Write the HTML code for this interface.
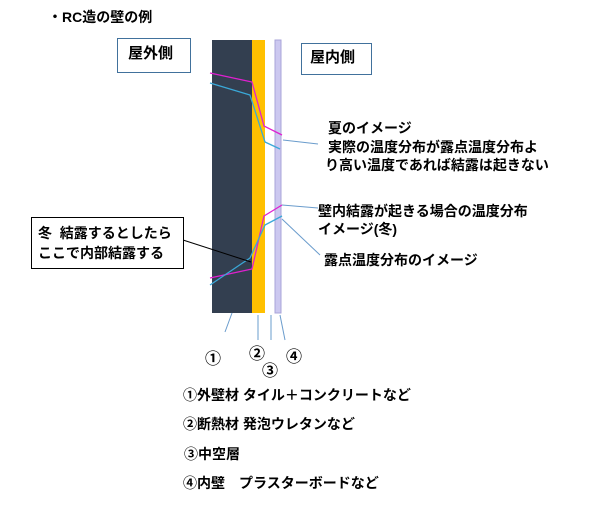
<!DOCTYPE html>
<html><head><meta charset="utf-8"><style>
body{margin:0;width:609px;height:506px;background:#fff;position:relative;overflow:hidden;font-family:"Liberation Sans","Noto Sans CJK JP",sans-serif;font-weight:bold;color:#000}
.t{position:absolute;font-size:14px;white-space:nowrap;line-height:18px}
.n{position:absolute;font-size:16px;line-height:18px;font-family:"Noto Sans CJK JP",sans-serif;font-weight:bold}
.box{position:absolute;border:1px solid #41719c;background:#fff}
</style></head><body>
<svg width="609" height="506" style="position:absolute;left:0;top:0">
<rect x="212" y="40" width="40" height="273" fill="#333f50"/>
<rect x="252" y="40" width="13" height="273" fill="#ffc000"/>
<rect x="275" y="40" width="6" height="273" fill="#ccc8f0" stroke="#a9a4d8" stroke-width="1"/>
<g fill="none" stroke-width="1.3">
<polyline points="210,73 252,82 264,126 282,135" stroke="#e020d0"/>
<polyline points="210,83 250,95 265,142 280,149" stroke="#3aa8d8"/>
<polyline points="210,278 252,269 264,216 282,205" stroke="#e020d0"/>
<polyline points="210,285 250,258 265,225 282,216" stroke="#3aa8d8"/>
</g>
<g stroke="#6a9ccc" stroke-width="1" fill="none">
<line x1="283" y1="140" x2="318" y2="144"/>
<line x1="282" y1="205" x2="318" y2="208"/>
<line x1="282" y1="219" x2="320" y2="255"/>
<line x1="232" y1="313" x2="225" y2="332"/>
<line x1="258" y1="315" x2="258" y2="340"/>
<line x1="271" y1="315" x2="271" y2="340"/>
<line x1="280" y1="315" x2="285" y2="340"/>
</g>
<line x1="183" y1="240" x2="251" y2="262" stroke="#000" stroke-width="1"/>
</svg>
<div class="t" style="left:48px;top:8px">・RC造の壁の例</div>
<div class="box" style="left:117px;top:38px;width:72px;height:33px"></div>
<div class="t" style="left:128px;top:45px;font-size:15px">屋外側</div>
<div class="box" style="left:301px;top:43px;width:69px;height:30px"></div>
<div class="t" style="left:310px;top:49px;font-size:15px">屋内側</div>
<div class="t" style="left:328px;top:119px">夏のイメージ</div>
<div class="t" style="left:328px;top:138px">実際の温度分布が露点温度分布よ</div>
<div class="t" style="left:325px;top:156px">り高い温度であれば結露は起きない</div>
<div class="t" style="left:318px;top:202px">壁内結露が起きる場合の温度分布</div>
<div class="t" style="left:318px;top:220px">イメージ(冬)</div>
<div class="t" style="left:324px;top:251px">露点温度分布のイメージ</div>
<div class="box" style="left:31px;top:217px;width:151px;height:50px;border-color:#000"></div>
<div class="t" style="left:38px;top:224px;font-size:14px">冬&nbsp; 結露するとしたら</div>
<div class="t" style="left:38px;top:244px;font-size:14px">ここで内部結露する</div>
<div class="n" style="left:205px;top:348px">①</div>
<div class="n" style="left:249px;top:343px">②</div>
<div class="n" style="left:262px;top:360px">③</div>
<div class="n" style="left:286px;top:346px">④</div>
<div class="t" style="left:183px;top:386px">①外壁材 タイル＋コンクリートなど</div>
<div class="t" style="left:183px;top:415px">②断熱材 発泡ウレタンなど</div>
<div class="t" style="left:184px;top:445px">③中空層</div>
<div class="t" style="left:183px;top:474px">④内壁　プラスターボードなど</div>
</body></html>
